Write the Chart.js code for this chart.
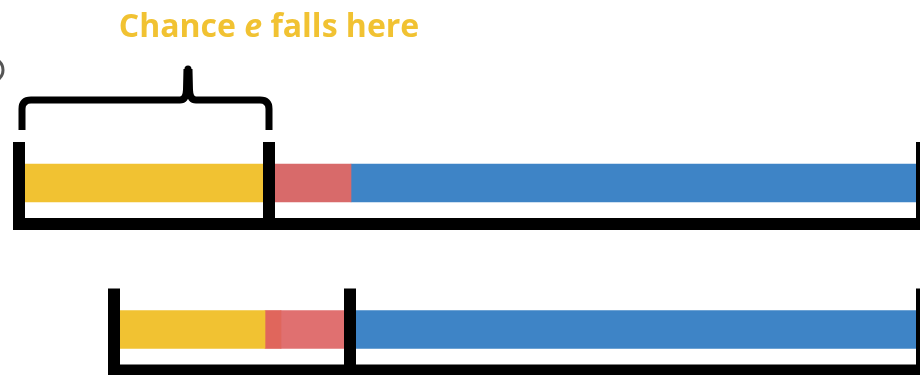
<!DOCTYPE html>
<html>
<head>
<meta charset="utf-8">
<script src="https://cdn.jsdelivr.net/npm/chart.js@4/dist/chart.umd.min.js"></script>
<style>
  html, body { margin: 0; padding: 0; background: #ffffff; }
  #wrap { width: 920px; height: 375px; position: relative; }
</style>
</head>
<body>
<div id="wrap"><canvas id="c" width="920" height="375"></canvas></div>
<script>
// ---- data (units on a 0..920 horizontal scale) ----
const rows = ['top', 'bottom'];
const offsetValues = [25, 120];     // empty space before each bar
const yellowValues = [244, 145];    // chance e falls here
const redDarkValues = [0, 16];
const redValues = [82, 69];
const blueValues = [565, 566];
const splitAfter = [1, 3];          // bracket divider after this many coloured segments
const annotationText = ['Chance ', 'e', ' falls here'];

const colors = {
  yellow: '#F1C232',
  redDark: '#E0665C',
  red: ['#D86A6A', '#E07070'],
  blue: '#3E84C6',
  text: '#F1C232'
};

const segs = [yellowValues, redDarkValues, redValues, blueValues];

function rowStart(i) { return offsetValues[i]; }
function rowEnd(i) { return offsetValues[i] + segs.reduce((s, a) => s + a[i], 0); }
function rowSplit(i) {
  let v = offsetValues[i];
  for (let k = 0; k < splitAfter[i]; k++) v += segs[k][i];
  return v;
}

const bracketPlugin = {
  id: 'brackets',
  afterDatasetsDraw(chart) {
    const ctx = chart.ctx;
    const xs = chart.scales.x;
    const meta = chart.getDatasetMeta(1);
    const W = 12;
    ctx.save();
    ctx.fillStyle = '#000';
    rows.forEach((r, i) => {
      const bar = meta.data[i];
      const h = bar.height;
      const top = bar.y - h / 2;
      const bot = bar.y + h / 2;
      const x0 = xs.getPixelForValue(rowStart(i));
      const x1 = xs.getPixelForValue(rowEnd(i));
      const xs1 = xs.getPixelForValue(rowSplit(i));
      const tickTop = top - 22;
      const baseTop = bot + 16;
      const baseBot = baseTop + W;
      ctx.fillStyle = '#000';
      // baseline
      ctx.fillRect(x0 - W, baseTop, (x1 + W) - (x0 - W), W);
      // left tick
      ctx.fillRect(x0 - W, tickTop, W, baseBot - tickTop);
      // right tick
      ctx.fillRect(x1, tickTop, W, baseBot - tickTop);
      // divider
      ctx.fillRect(xs1 - W / 2, tickTop, W, baseBot - tickTop);

      if (i === 0) {
        // partial grey ring cut off at the left edge
        ctx.beginPath();
        ctx.strokeStyle = '#555';
        ctx.lineWidth = 3;
        ctx.arc(-9, top - 94, 12, 0, Math.PI * 2);
        ctx.stroke();

        // curly brace over the first section
        const bl = x0 - W / 2 + 3;
        const br = xs1;
        const tipX = bl + (br - bl) * 0.672;
        const yLine = top - 64;
        const yEnd = top - 34;
        const yTip = top - 98;
        const rad = 9;
        ctx.strokeStyle = '#000';
        ctx.lineWidth = 7;
        ctx.lineCap = 'butt';
        ctx.lineJoin = 'round';
        ctx.beginPath();
        ctx.moveTo(bl, yEnd);
        ctx.lineTo(bl, yLine + rad);
        ctx.quadraticCurveTo(bl, yLine, bl + rad, yLine);
        ctx.lineTo(tipX - 8, yLine);
        ctx.quadraticCurveTo(tipX - 2, yLine, tipX - 1.5, yLine - 10);
        ctx.lineTo(tipX - 1, yTip + 3);
        ctx.stroke();
        ctx.beginPath();
        ctx.moveTo(br, yEnd);
        ctx.lineTo(br, yLine + rad);
        ctx.quadraticCurveTo(br, yLine, br - rad, yLine);
        ctx.lineTo(tipX + 8, yLine);
        ctx.quadraticCurveTo(tipX + 2, yLine, tipX + 1.5, yLine - 10);
        ctx.lineTo(tipX + 1, yTip + 3);
        ctx.stroke();
        ctx.beginPath();
        ctx.lineCap = 'round';
        ctx.moveTo(tipX, yLine - 8);
        ctx.lineTo(tipX, yTip + 3);
        ctx.stroke();

        // annotation text centred on the divider
        const fonts = [
          'bold 32px "Open Sans"',
          'italic bold 32px "Open Sans"',
          'bold 32px "Open Sans"'
        ];
        let total = 0;
        const widths = annotationText.map((t, k) => {
          ctx.font = fonts[k];
          const w = ctx.measureText(t).width;
          total += w;
          return w;
        });
        let tx = xs1 - total / 2;
        const ty = top - 127;
        ctx.fillStyle = colors.text;
        ctx.textBaseline = 'alphabetic';
        ctx.textAlign = 'left';
        annotationText.forEach((t, k) => {
          ctx.font = fonts[k];
          ctx.fillText(t, tx, ty);
          tx += widths[k];
        });
        ctx.fillStyle = '#000';
      }
    });
    ctx.restore();
  }
};

new Chart(document.getElementById('c'), {
  type: 'bar',
  data: {
    labels: rows,
    datasets: [
      { label: 'offset', data: offsetValues, backgroundColor: 'rgba(0,0,0,0)' },
      { label: 'yellow', data: yellowValues, backgroundColor: colors.yellow },
      { label: 'redDark', data: redDarkValues, backgroundColor: colors.redDark },
      { label: 'red', data: redValues, backgroundColor: colors.red },
      { label: 'blue', data: blueValues, backgroundColor: colors.blue }
    ]
  },
  options: {
    indexAxis: 'y',
    responsive: false,
    animation: false,
    layout: { padding: { left: 0, right: 0, top: 183, bottom: 45.5 } },
    datasets: { bar: { barThickness: 38, borderWidth: 0, clip: false } },
    scales: {
      x: { type: 'linear', stacked: true, min: 0, max: 920, display: false },
      y: { type: 'category', stacked: true, offset: false, display: false }
    },
    plugins: {
      legend: { display: false },
      tooltip: { enabled: false },
      title: { display: false }
    }
  },
  plugins: [bracketPlugin]
});
</script>
</body>
</html>
